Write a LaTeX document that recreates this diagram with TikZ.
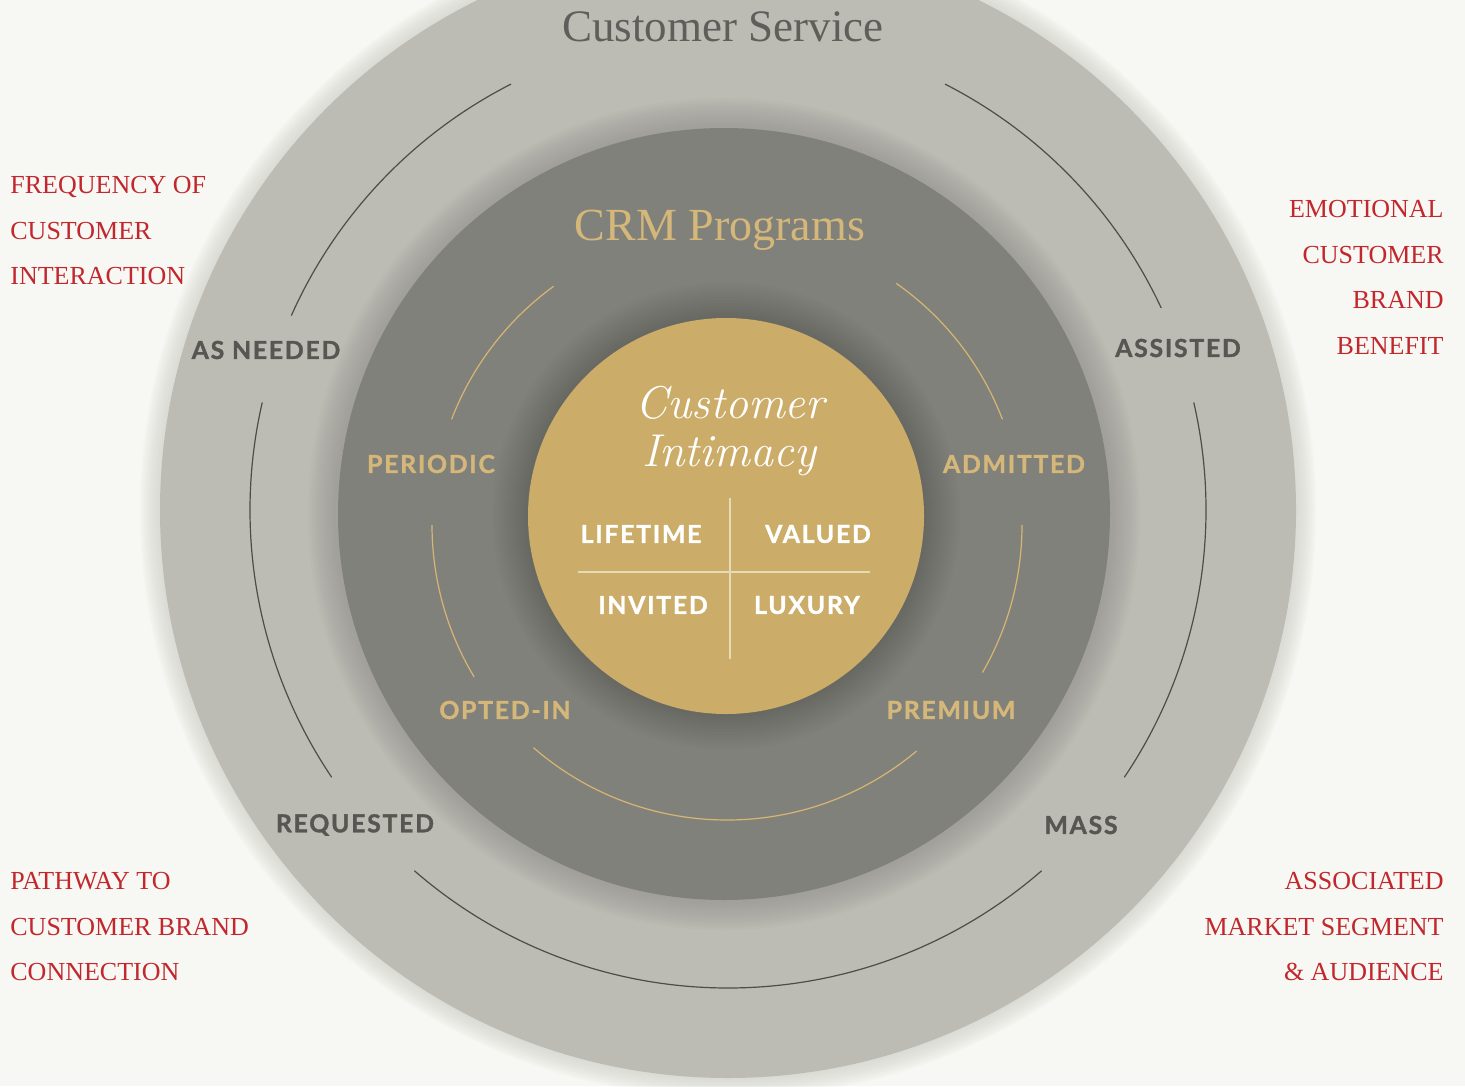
\documentclass[tikz,border=0pt]{standalone}
\usepackage{fontspec}
\newfontfamily\serifface{Liberation Serif}
\newfontfamily\sansface{Lato}[LetterSpace=7, BoldFeatures={FakeBold=1.3}]

\definecolor{bgcream}{HTML}{F7F7F3}
\definecolor{ringgray}{HTML}{BCBBB4}
\definecolor{darkgray}{HTML}{81817B}
\definecolor{goldfill}{HTML}{CBAC68}
\definecolor{goldtext}{HTML}{D5B77A}
\definecolor{tagdark}{HTML}{575652}
\definecolor{notered}{HTML}{C1272D}
\definecolor{arcdark}{HTML}{4D4C48}
\definecolor{arcgold}{HTML}{D8B573}
\definecolor{crossline}{HTML}{E6DAB9}

\begin{document}
\begin{tikzpicture}[
  x=0.5pt, y=0.5pt,
  outer tag/.style={
    font=\sansface\bfseries\fontsize{12.4}{14}\selectfont,
    text=tagdark,
    inner sep=0
  },
  inner tag/.style={
    outer tag,
    text=goldtext
  },
  quad tag/.style={
    outer tag,
    text=white
  },
  red note/.style={
    font=\serifface\fontsize{13}{22.75}\selectfont,
    text=notered,
    inner sep=0
  },
  outer arc/.style={
    draw=arcdark,
    line width=0.6pt
  },
  inner arc/.style={
    draw=arcgold,
    line width=0.6pt
  },
]
\useasboundingbox (0,0) rectangle (1465,-1086);
\clip (0,0) rectangle (1465,-1086);
\fill[bgcream] (0,0) rectangle (1465,-1086);

\coordinate (outc) at (728,-510);
\coordinate (darkc) at (724,-514);
\coordinate (goldc) at (726,-516);
\coordinate (arcc) at (727,-525);

% rings with their soft halos
\foreach \i in {1,...,10}
  \fill[ringgray!80!white, opacity=.07] (outc) circle (568+\i*2);
\fill[ringgray] (outc) circle (568);

\foreach \i in {1,...,12}
  \fill[darkgray!85!white, opacity=.07] (darkc) circle (386+\i*2.5);
\fill[darkgray] (darkc) circle (386);

\foreach \i in {1,...,12}
  \fill[black, opacity=.013] (goldc) circle (198+\i*3);
\fill[goldfill] (goldc) circle (198);

% thin arcs
\foreach \a/\b in {25/63,117/156,167/214,229/311,326/373}
  \draw[outer arc] (outc) ++(\a:478) arc[start angle=\a, end angle=\b, radius=478];
\foreach \a/\b in {21/55,126/159,180/211,229/310,330/360}
  \draw[inner arc] (arcc) ++(\a:295) arc[start angle=\a, end angle=\b, radius=295];

% titles
\node[font=\serifface\fontsize{22.5}{26}\selectfont, text=tagdark!95!white, anchor=base, inner sep=0]
  (service) at (723,-42) {Customer Service};
\node[font=\serifface\fontsize{23}{27}\selectfont, text=goldtext, anchor=base, inner sep=0]
  (crm) at (720,-240) {CRM Programs};
\node[font=\itshape\fontsize{23}{27}\selectfont, text=white, anchor=base, inner sep=0]
  (intimacy1) at (730,-418) {Customer};
\node[font=\itshape\fontsize{23}{27}\selectfont, text=white, anchor=base, inner sep=0]
  (intimacy2) at (729,-466) {Intimacy};

% quadrants
\draw[crossline, line width=0.7pt] (730,-498) -- (730,-659);
\draw[crossline, line width=0.7pt] (578,-572) -- (870,-572);
\node[quad tag] (lifetime) at (641,-534) {LIFETIME};
\node[quad tag] (valued) at (818,-534) {VALUED};
\node[quad tag] (invited) at (653,-605) {INVITED};
\node[quad tag] (luxury) at (807,-605) {LUXURY};

% ring labels
\node[outer tag] (asneeded) at (266,-350) {AS NEEDED};
\node[outer tag] (assisted) at (1178,-348) {ASSISTED};
\node[outer tag] (requested) at (355,-825) {REQUESTED};
\node[outer tag] (mass) at (1081,-825) {MASS};
\node[inner tag] (periodic) at (431,-464) {PERIODIC};
\node[inner tag] (admitted) at (1014,-464) {ADMITTED};
\node[inner tag] (optedin) at (505,-710) {OPTED-IN};
\node[inner tag] (premium) at (951,-710) {PREMIUM};

% corner notes
\node[red note, anchor=north west, align=left] (frequency) at (10,-176)
  {FREQUENCY OF\\CUSTOMER\\INTERACTION};
\node[red note, anchor=north east, align=right] (emotional) at (1444,-200)
  {EMOTIONAL\\CUSTOMER\\BRAND\\BENEFIT};
\node[red note, anchor=north west, align=left] (pathway) at (10,-872)
  {PATHWAY TO\\CUSTOMER BRAND\\CONNECTION};
\node[red note, anchor=north east, align=right] (associated) at (1444,-872)
  {ASSOCIATED\\MARKET SEGMENT\\\& AUDIENCE};
\end{tikzpicture}
\end{document}
